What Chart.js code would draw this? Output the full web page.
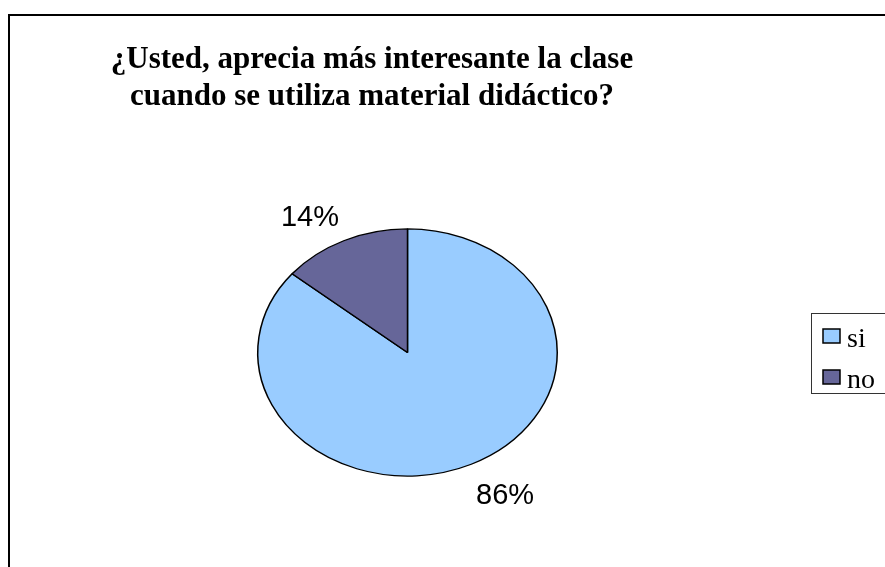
<!DOCTYPE html>
<html lang="es">
<head>
<meta charset="utf-8">
<title>Material didáctico</title>
<script src="https://cdn.jsdelivr.net/npm/chart.js@4.4.1/dist/chart.umd.min.js"></script>
<style>
  html, body { margin: 0; padding: 0; background: #fff; }
  canvas { display: block; }
</style>
</head>
<body>
<canvas id="grafico" width="885" height="567"></canvas>
<script>
/* ===============================
   DATOS
================================ */

const titulo = [
  '¿Usted, aprecia más interesante la clase',
  'cuando se utiliza material didáctico?'
];
const categorias = ['si', 'no'];
const valores = [86, 14];
const colores = ['#99CCFF', '#666699'];

/* ===============================
   PLUGINS
================================ */

// el pastel original es una elipse: se achata en vertical
const ESCALA_Y = 0.825;

const elipse = {
  id: 'elipse',
  beforeDatasetsDraw(chart) {
    const arc = chart.getDatasetMeta(0).data[0];
    const ctx = chart.ctx;
    ctx.save();
    ctx.translate(arc.x, arc.y);
    ctx.scale(1, ESCALA_Y);
    ctx.translate(-arc.x, -arc.y);
  },
  afterDatasetsDraw(chart) {
    chart.ctx.restore();
  }
};

const decorado = {
  id: 'decorado',
  afterDraw(chart) {
    const ctx = chart.ctx;
    ctx.save();

    // marco exterior
    ctx.strokeStyle = '#000';
    ctx.lineWidth = 2;
    ctx.strokeRect(9, 15, 900, 600);

    // título
    ctx.fillStyle = '#000';
    ctx.font = 'bold 31px "Liberation Serif", "Times New Roman", serif';
    ctx.textAlign = 'center';
    ctx.textBaseline = 'alphabetic';
    ctx.fillText(titulo[0], 372, 68);
    ctx.fillText(titulo[1], 372, 105);

    // porcentajes
    const meta = chart.getDatasetMeta(0);
    const total = valores.reduce((a, b) => a + b, 0);
    ctx.font = '29px "Liberation Sans", Arial, sans-serif';
    ctx.textBaseline = 'middle';
    meta.data.forEach((arc, i) => {
      const mid = (arc.startAngle + arc.endAngle) / 2;
      const r = arc.outerRadius;
      const x = arc.x + Math.cos(mid) * r * 1.53;
      const y = arc.y + Math.sin(mid) * r * ESCALA_Y * 1.24 + 4.5;
      ctx.fillText(Math.round(valores[i] / total * 100) + '%', x, y);
    });

    // leyenda
    ctx.strokeStyle = '#333';
    ctx.lineWidth = 1;
    ctx.strokeRect(811.5, 313.5, 100, 80);
    ctx.font = '28px "Liberation Serif", "Times New Roman", serif';
    ctx.textAlign = 'left';
    ctx.textBaseline = 'alphabetic';
    categorias.forEach((cat, i) => {
      const y = 329 + i * 41;
      ctx.fillStyle = colores[i];
      ctx.fillRect(823, y, 17, 14);
      ctx.strokeStyle = '#000';
      ctx.lineWidth = 1.5;
      ctx.strokeRect(823, y, 17, 14);
      ctx.fillStyle = '#000';
      ctx.fillText(cat, 847, y + 18);
    });

    ctx.restore();
  }
};

/* ===============================
   GRÁFICO
================================ */

new Chart(document.getElementById('grafico'), {
  type: 'pie',
  data: {
    labels: categorias,
    datasets: [{
      data: valores,
      backgroundColor: colores,
      borderColor: '#000',
      borderWidth: 1.5
    }]
  },
  options: {
    responsive: false,
    animation: false,
    layout: {
      padding: { top: 202, bottom: 64, left: 257, right: 327 }
    },
    plugins: {
      legend: { display: false },
      title: { display: false },
      tooltip: { enabled: false }
    }
  },
  plugins: [elipse, decorado]
});
</script>
</body>
</html>
